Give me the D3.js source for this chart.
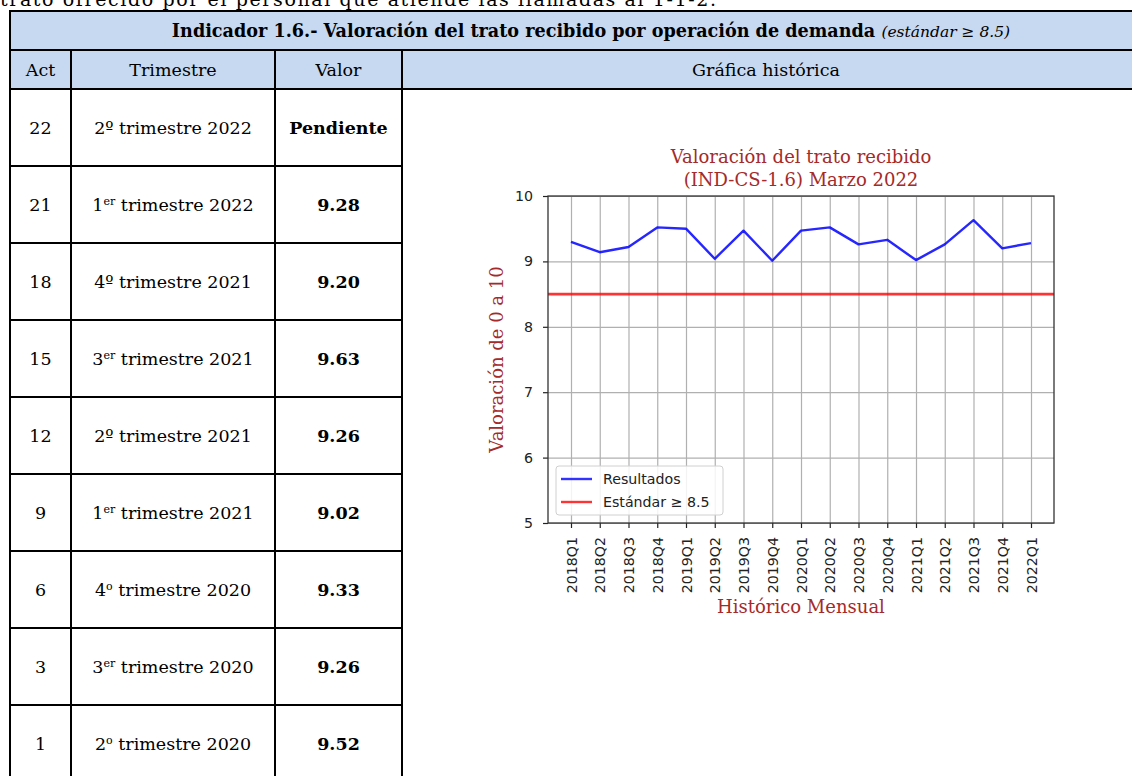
<!DOCTYPE html>
<html><head><meta charset="utf-8">
<script src="https://cdn.jsdelivr.net/npm/d3@7"></script>
<style>body{margin:0;background:#fff;overflow:hidden} svg{display:block}</style>
</head><body>
<svg id="c" width="1132" height="776"></svg>
<script>
// ---- data ----
const introText = "trato ofrecido por el personal que atiende las llamadas al 1-1-2.";
const headerTitle = "Indicador 1.6.- Valoración del trato recibido por operación de demanda";
const headerNote = "(estándar ≥ 8.5)";
const colHeaders = ["Act", "Trimestre", "Valor", "Gráfica histórica"];
const acts = [22, 21, 18, 15, 12, 9, 6, 3, 1];
const trimNum = ["2", "1", "4", "3", "2", "1", "4", "3", "2"];
const trimSuf = ["º", "er", "º", "er", "º", "er", "o", "er", "o"];
const trimRest = [" trimestre 2022", " trimestre 2022", " trimestre 2021", " trimestre 2021", " trimestre 2021", " trimestre 2021", " trimestre 2020", " trimestre 2020", " trimestre 2020"];
const valores = ["Pendiente", "9.28", "9.20", "9.63", "9.26", "9.02", "9.33", "9.26", "9.52"];

const quarters = ["2018Q1","2018Q2","2018Q3","2018Q4","2019Q1","2019Q2","2019Q3","2019Q4","2020Q1","2020Q2","2020Q3","2020Q4","2021Q1","2021Q2","2021Q3","2021Q4","2022Q1"];
const resultados = [9.30, 9.14, 9.22, 9.52, 9.50, 9.04, 9.47, 9.01, 9.47, 9.52, 9.26, 9.33, 9.02, 9.26, 9.63, 9.20, 9.28];
const estandar = 8.5;
const yTicks = [5, 6, 7, 8, 9, 10];
const chartTitle = ["Valoración del trato recibido", "(IND-CS-1.6) Marzo 2022"];
const yLabel = "Valoración de 0 a 10";
const xLabel = "Histórico Mensual";
const legendLabels = ["Resultados", "Estándar ≥ 8.5"];

// ---- layout ----
const svg = d3.select("#c");
const SERIF = "'DejaVu Serif', serif";
const SANS = "'DejaVu Sans', sans-serif";
const colX = [10, 71, 275, 402, 1134];
const hdrY = [11, 50, 89];
const rowH = 77;
const rowY = d3.range(acts.length + 1).map(i => hdrY[2] + i * rowH);

// intro text (cut at the top, as in the source page)
svg.append("text").attr("x", 0).attr("y", 6).attr("font-family", SERIF).attr("font-size", 19)
  .attr("textLength", 716).attr("lengthAdjust", "spacing").attr("fill", "#000").text(introText);

// header fills
svg.append("rect").attr("x", colX[0]).attr("y", hdrY[0]).attr("width", colX[4] - colX[0]).attr("height", hdrY[2] - hdrY[0]).attr("fill", "#c6d9f1");

// header texts
const h1 = svg.append("text").attr("x", 591).attr("y", (hdrY[0] + hdrY[1]) / 2).attr("dy", "0.36em")
  .attr("text-anchor", "middle").attr("font-family", SERIF).attr("font-size", 17.6).attr("fill", "#000");
h1.append("tspan").attr("font-weight", "bold").text(headerTitle + " ");
h1.append("tspan").attr("font-style", "italic").attr("font-size", 15.5).text(headerNote);

colHeaders.forEach((t, i) => {
  svg.append("text").attr("x", (colX[i] + Math.min(colX[i + 1], 1130)) / 2).attr("y", (hdrY[1] + hdrY[2]) / 2).attr("dy", "0.36em")
    .attr("text-anchor", "middle").attr("font-family", SERIF).attr("font-size", 17.5).attr("fill", "#000").text(t);
});

// table rows
acts.forEach((a, i) => {
  const cy = (rowY[i] + rowY[i + 1]) / 2;
  svg.append("text").attr("x", (colX[0] + colX[1]) / 2).attr("y", cy).attr("dy", "0.36em").attr("text-anchor", "middle")
    .attr("font-family", SERIF).attr("font-size", 17.5).text(a);
  const t = svg.append("text").attr("x", (colX[1] + colX[2]) / 2).attr("y", cy + 6.3).attr("text-anchor", "middle")
    .attr("font-family", SERIF).attr("font-size", 17.5);
  t.append("tspan").text(trimNum[i]);
  if (trimSuf[i] === "º") {
    t.append("tspan").text("º");
    t.append("tspan").text(trimRest[i]);
  } else {
    t.append("tspan").attr("font-size", 11).attr("dy", -6).text(trimSuf[i]);
    t.append("tspan").attr("dy", 6).text(trimRest[i]);
  }
  svg.append("text").attr("x", (colX[2] + colX[3]) / 2).attr("y", cy).attr("dy", "0.36em").attr("text-anchor", "middle")
    .attr("font-family", SERIF).attr("font-weight", "bold").attr("font-size", 17.5).text(valores[i]);
});

// table lines
const lines = svg.append("g").attr("stroke", "#000").attr("stroke-width", 2);
[hdrY[0], hdrY[1], hdrY[2]].forEach(y => lines.append("line").attr("x1", colX[0] - 1).attr("x2", colX[4]).attr("y1", y).attr("y2", y));
rowY.slice(1).forEach(y => lines.append("line").attr("x1", colX[0] - 1).attr("x2", colX[3] + 1).attr("y1", y).attr("y2", y));
lines.append("line").attr("x1", colX[0]).attr("x2", colX[0]).attr("y1", hdrY[0]).attr("y2", 780);
[1, 2, 3].forEach(k => lines.append("line").attr("x1", colX[k]).attr("x2", colX[k]).attr("y1", hdrY[1]).attr("y2", 780));

// ---- chart ----
const L = 548, R = 1054, T = 196, B = 523;
const x = d3.scaleLinear().domain([-0.8, quarters.length - 1 + 0.8]).range([L, R]);
const y = d3.scaleLinear().domain([5, 10]).range([B, T]);
const g = svg.append("g");

// grid
g.append("g").attr("transform", `translate(0,${B})`)
  .call(d3.axisBottom(x).tickValues(d3.range(quarters.length)).tickSize(-(B - T)).tickFormat(""))
  .call(s => s.select(".domain").remove())
  .call(s => s.selectAll("line").attr("stroke", "#b0b0b0").attr("stroke-width", 1.2));
g.append("g").attr("transform", `translate(${L},0)`)
  .call(d3.axisLeft(y).tickValues(yTicks).tickSize(-(R - L)).tickFormat(""))
  .call(s => s.select(".domain").remove())
  .call(s => s.selectAll("line").attr("stroke", "#b0b0b0").attr("stroke-width", 1.2));

// standard line
g.append("line").attr("x1", L).attr("x2", R).attr("y1", y(estandar)).attr("y2", y(estandar))
  .attr("stroke", "#ff0000").attr("stroke-opacity", 0.8).attr("stroke-width", 2.6);

// results line
g.append("path").datum(resultados)
  .attr("d", d3.line().x((d, i) => x(i)).y(d => y(d)))
  .attr("fill", "none").attr("stroke", "#0000ff").attr("stroke-opacity", 0.85).attr("stroke-width", 2.4).attr("stroke-linejoin", "round");

// axes
const xa = g.append("g").attr("transform", `translate(0,${B})`)
  .call(d3.axisBottom(x).tickValues(d3.range(quarters.length)).tickFormat(i => quarters[i]).tickSize(5).tickSizeOuter(0));
xa.select(".domain").remove();
xa.selectAll("line").attr("stroke", "#222").attr("stroke-width", 1.2);
xa.selectAll("text").attr("transform", "rotate(-90)").attr("x", -14).attr("y", 0).attr("dy", "0.36em")
  .style("text-anchor", "end").attr("font-family", SANS).attr("font-size", 14.2).attr("fill", "#222");

const ya = g.append("g").attr("transform", `translate(${L},0)`)
  .call(d3.axisLeft(y).tickValues(yTicks).tickFormat(d3.format("d")).tickSize(5).tickPadding(10).tickSizeOuter(0));
ya.select(".domain").remove();
ya.selectAll("line").attr("stroke", "#222").attr("stroke-width", 1.2);
ya.selectAll("text").attr("font-family", SANS).attr("font-size", 14.2).attr("fill", "#222");

// frame
g.append("rect").attr("x", L).attr("y", T).attr("width", R - L).attr("height", B - T)
  .attr("fill", "none").attr("stroke", "#333").attr("stroke-width", 1.3);

// legend
const lg = g.append("g");
lg.append("rect").attr("x", 556).attr("y", 466).attr("width", 167).attr("height", 49).attr("rx", 3)
  .attr("fill", "#fff").attr("fill-opacity", 0.85).attr("stroke", "#d0d0d0");
const lgColors = ["#0000ff", "#ff0000"];
legendLabels.forEach((t, i) => {
  const ly = 479 + i * 23;
  lg.append("line").attr("x1", 561).attr("x2", 592).attr("y1", ly).attr("y2", ly)
    .attr("stroke", lgColors[i]).attr("stroke-opacity", 0.8).attr("stroke-width", 2.4);
  lg.append("text").attr("x", 603).attr("y", ly).attr("dy", "0.36em").attr("font-family", SANS)
    .attr("font-size", 14.2).attr("fill", "#222").text(t);
});

// titles
const tt = g.append("text").attr("text-anchor", "middle").attr("font-family", SERIF).attr("font-size", 18).attr("fill", "#a52a2a");
chartTitle.forEach((t, i) => tt.append("tspan").attr("x", (L + R) / 2).attr("y", 163 + i * 23).text(t));
g.append("text").attr("transform", `translate(503,${(T + B) / 2}) rotate(-90)`).attr("text-anchor", "middle")
  .attr("font-family", SERIF).attr("font-size", 18).attr("fill", "#a52a2a").text(yLabel);
g.append("text").attr("x", (L + R) / 2).attr("y", 613).attr("text-anchor", "middle")
  .attr("font-family", SERIF).attr("font-size", 18).attr("fill", "#a52a2a").text(xLabel);
</script>
</body></html>
